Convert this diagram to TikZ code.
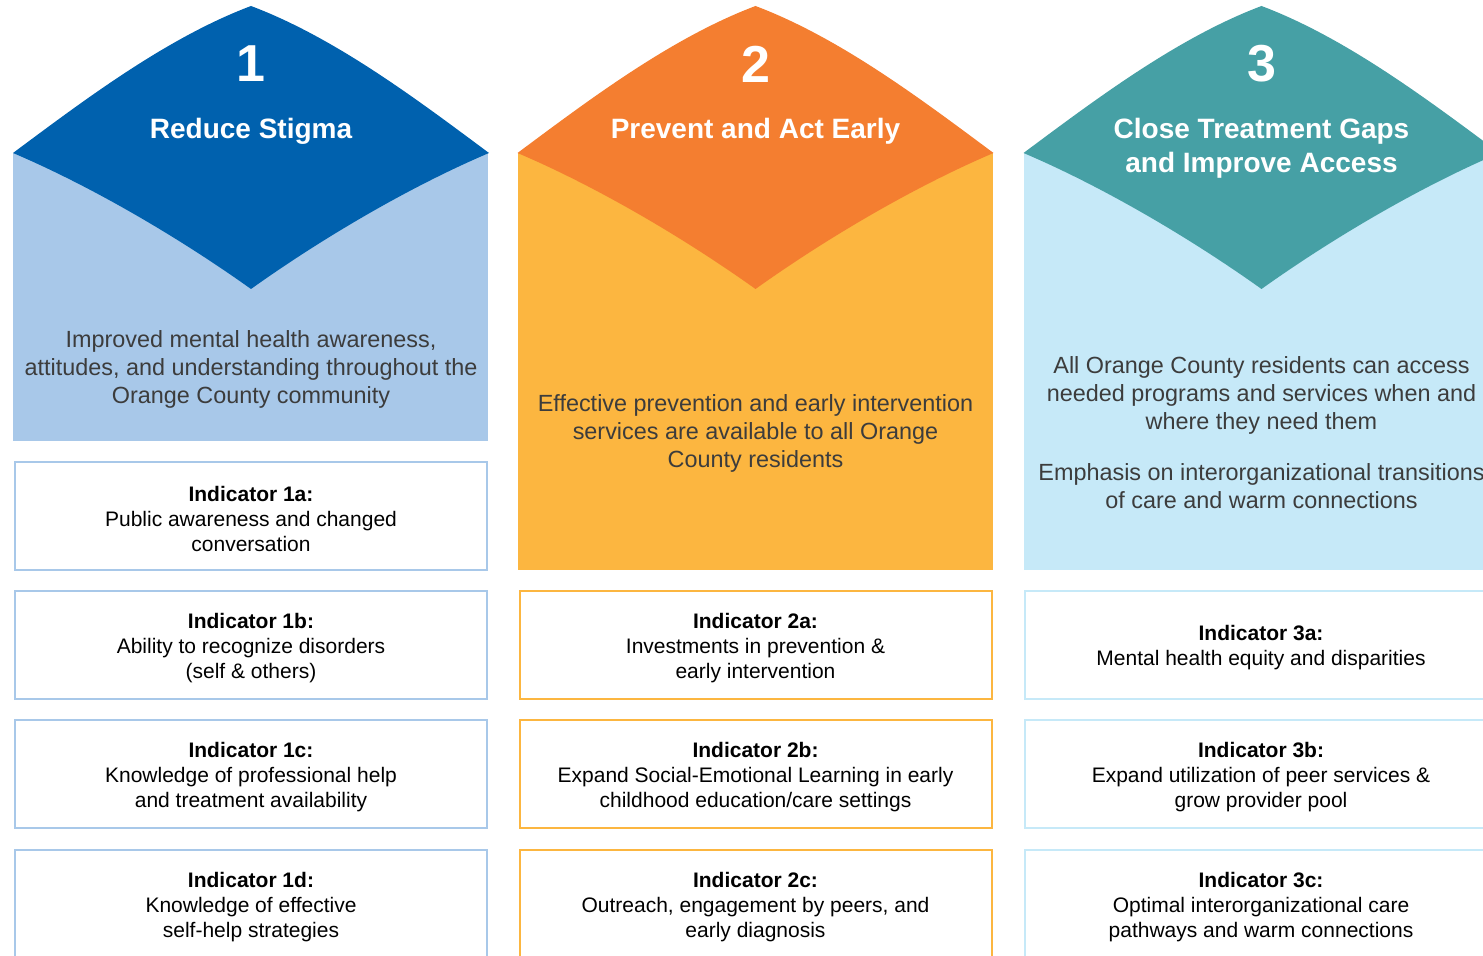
\documentclass[tikz,border=0pt]{standalone}
\usepackage{fontspec}
\setmainfont{Liberation Sans}
\usetikzlibrary{positioning}

\definecolor{stigmadark}{HTML}{0061AE}
\definecolor{stigmalight}{HTML}{A8C8E9}
\definecolor{earlydark}{HTML}{F47E30}
\definecolor{earlylight}{HTML}{FCB640}
\definecolor{accessdark}{HTML}{46A0A5}
\definecolor{accesslight}{HTML}{C6E9F8}
\definecolor{desctext}{HTML}{3C3C3C}

% curved flap: #1 = centre x, #2 = colour
\newcommand{\flap}[2]{%
  \fill[#2] (#1-238,153) .. controls (#1-168,101) and (#1-85,38) .. (#1,6)
    .. controls (#1+85,38) and (#1+168,101) .. (#1+238,153)
    .. controls (#1+158,187) and (#1+70,239) .. (#1,289)
    .. controls (#1-70,239) and (#1-158,187) .. cycle;}
% heading line of an indicator box
\newcommand{\indhead}[1]{\rule{0pt}{10.6pt}\textbf{Indicator #1:}}

\begin{document}
\begin{tikzpicture}[x=0.5pt,y=-0.5pt,
    number/.style={text=white,font=\fontsize{26}{26}\selectfont\bfseries,inner sep=0},
    goal/.style={text=white,font=\fontsize{14}{17}\selectfont\bfseries,align=center,inner sep=0},
    desc/.style={text=desctext,font=\fontsize{11.7}{14}\selectfont,align=center,inner sep=0},
    indicator/.style={draw=#1,line width=1pt,fill=white,minimum width=236pt,minimum height=54pt,
        font=\fontsize{10.5}{12.5}\selectfont,align=center,inner sep=0}
]
 \useasboundingbox (0,0) rectangle (1483,956);
 \clip (0,0) rectangle (1483,956);

 % column backgrounds
 \fill[stigmalight] (13,153) rectangle (488,441);
 \fill[earlylight] (518,153) rectangle (993,570);
 \fill[accesslight] (1024,153) rectangle (1499,570);
 \flap{251}{stigmadark}
 \flap{755.5}{earlydark}
 \flap{1261.5}{accessdark}

 % goals
 \node[number] (num1) at (251,64) {1};
 \node[goal] (goal1) at (251,131) {Reduce Stigma};
 \node[number] (num2) at (755.5,64) {2};
 \node[goal] (goal2) at (755.5,131) {Prevent and Act Early};
 \node[number] (num3) at (1261.5,64) {3};
 \node[goal] (goal3) at (1261.5,148) {Close Treatment Gaps\\and Improve Access};

 \node[desc] (desc1) at (251,369) {Improved mental health awareness,\\
    attitudes, and understanding throughout the\\Orange County community};
 \node[desc] (desc2) at (755.5,433) {Effective prevention and early intervention\\
    services are available to all Orange\\County residents};
 \node[desc] (desc3) at (1261.5,395) {All Orange County residents can access\\
    needed programs and services when and\\where they need them};
 \node[desc] (desc3b) at (1261.5,486) {Emphasis on interorganizational transitions\\
    of care and warm connections};

 % indicators
 \node[indicator=stigmalight] (ind1a) at (251,516)
    {\indhead{1a}\\Public awareness and changed\\conversation};
 \node[indicator=stigmalight] (ind1b) at (251,645)
    {\indhead{1b}\\Ability to recognize disorders\\(self \& others)};
 \node[indicator=stigmalight] (ind1c) at (251,774)
    {\indhead{1c}\\Knowledge of professional help\\and treatment availability};
 \node[indicator=stigmalight] (ind1d) at (251,904)
    {\indhead{1d}\\Knowledge of effective\\self-help strategies};

 \node[indicator=earlylight] (ind2a) at (755.5,645)
    {\indhead{2a}\\Investments in prevention \&\\early intervention};
 \node[indicator=earlylight] (ind2b) at (755.5,774)
    {\indhead{2b}\\Expand Social-Emotional Learning in early\\childhood education/care settings};
 \node[indicator=earlylight] (ind2c) at (755.5,904)
    {\indhead{2c}\\Outreach, engagement by peers, and\\early diagnosis};

 \node[indicator=accesslight] (ind3a) at (1261,645)
    {\indhead{3a}\\Mental health equity and disparities};
 \node[indicator=accesslight] (ind3b) at (1261,774)
    {\indhead{3b}\\Expand utilization of peer services \&\\grow provider pool};
 \node[indicator=accesslight] (ind3c) at (1261,904)
    {\indhead{3c}\\Optimal interorganizational care\\pathways and warm connections};
\end{tikzpicture}
\end{document}
